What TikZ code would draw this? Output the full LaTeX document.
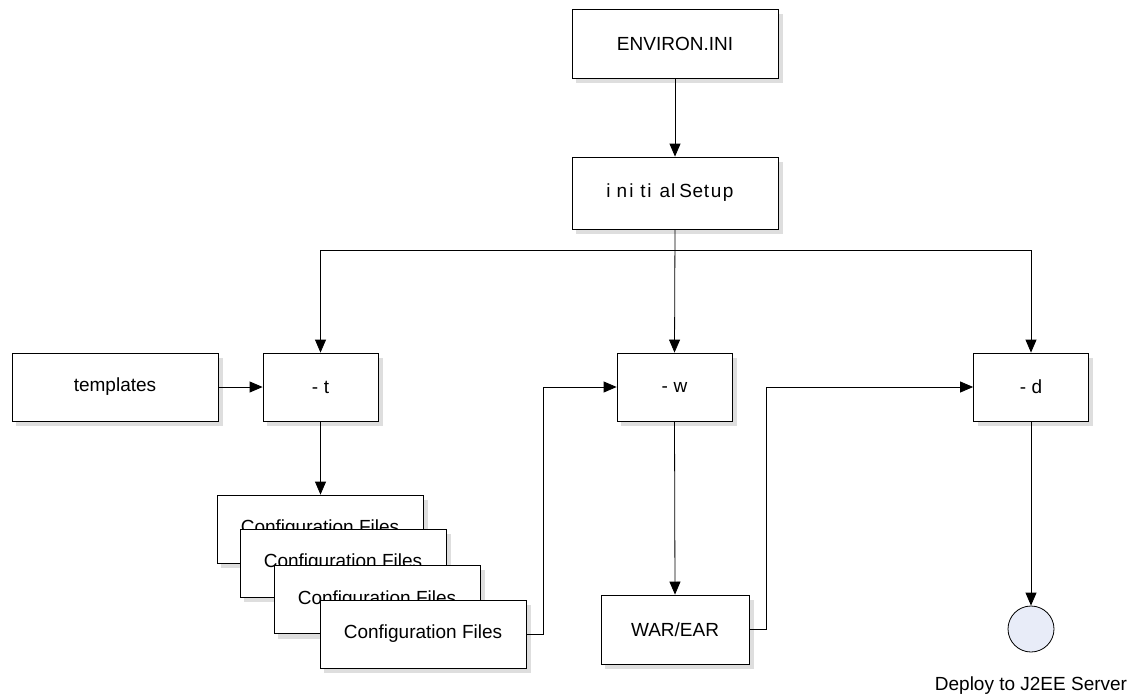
\documentclass[tikz,border=0pt]{standalone}
\usepackage{fontspec}
\setmainfont{Liberation Sans}
\usetikzlibrary{arrows.meta,backgrounds}
\definecolor{shadowgray}{RGB}{222,222,222}
\definecolor{circfill}{RGB}{232,236,248}
\newcommand\flagtext[1]{-\kern5.5pt #1}
\begin{document}
\begin{tikzpicture}[x=1pt,y=-1pt,
  box/.style={draw=black, line width=0.8pt, fill=white, inner sep=0pt,
    font=\fontsize{19}{22}\selectfont},
  wide/.style={box, minimum width=206pt, minimum height=68pt},
  small/.style={box, minimum width=115pt, minimum height=68pt},
  arr/.style={-{Triangle[length=13pt,width=11pt]}, line width=0.8pt},
  shadowbox/.style={fill=shadowgray, draw=none},
  lbl/.style={font=\fontsize{19}{22}\selectfont, inner sep=0pt}
]
\useasboundingbox (0,0) rectangle (1136,696);

\node[wide, minimum height=69pt] (env) at (675,43.5) {ENVIRON.INI};
\node[wide, minimum height=72pt] (init) at (675,193)
  {i\kern5.85pt n\kern2.35pt i\kern6.8pt t\kern1.7pt i\kern8pt a\kern0.8pt l\kern4.2pt S\kern0.4pt e\kern0.9pt t\kern1.75pt u\kern1.4pt p\kern10pt};
\node[wide] (tpl) at (115,387) {templates};
\node[small] (t) at (320.5,387) {\flagtext{t}};
\node[small] (w) at (674.5,387) {\flagtext{w}};
\node[small] (d) at (1031,387) {\flagtext{d}};
\node[box, minimum width=148pt, minimum height=69pt] (war) at (675,629.5) {WAR/EAR};

\node[wide] (cf1) at (320,529) {Configuration Files};
\node[wide] (cf2) at (343,563) {Configuration Files};
\node[wide] (cf3) at (377,599.5) {Configuration Files};
\node[wide] (cf4) at (423,634) {Configuration Files};

\begin{scope}[on background layer]
  \foreach \n in {env,init,tpl,t,w,d,war,cf1,cf2,cf3,cf4}
    \fill[shadowbox] ([shift={(4.5,5)}]\n.north west) rectangle ([shift={(4.5,5)}]\n.south east);
\end{scope}

\node[circle, draw=black, line width=0.8pt, fill=circfill, minimum size=46pt, inner sep=0pt] (srv) at (1031,629) {};
\node[lbl] (srvlbl) at (1031,686) {Deploy to J2EE Server};

\coordinate (br) at (674.5,250);
\coordinate (j1) at (543,634);
\coordinate (j2) at (766,629.5);

\draw[arr] (env.south) -- (init.north);
\draw[arr] (init.south) -- (w.north);
\draw[arr] (br) -| (t.north);
\draw[arr] (br) -| (d.north);
\draw[arr] (tpl.east) -- (t.west);
\draw[arr] (t.south) -- (t.south |- cf1.north);
\draw[arr] (cf4.east) -- (j1) |- (w.west);
\draw[arr] (w.south) -- (war.north);
\draw[arr] (war.east) -- (j2) |- (d.west);
\draw[arr] (d.south) -- (srv.north);
\end{tikzpicture}
\end{document}
